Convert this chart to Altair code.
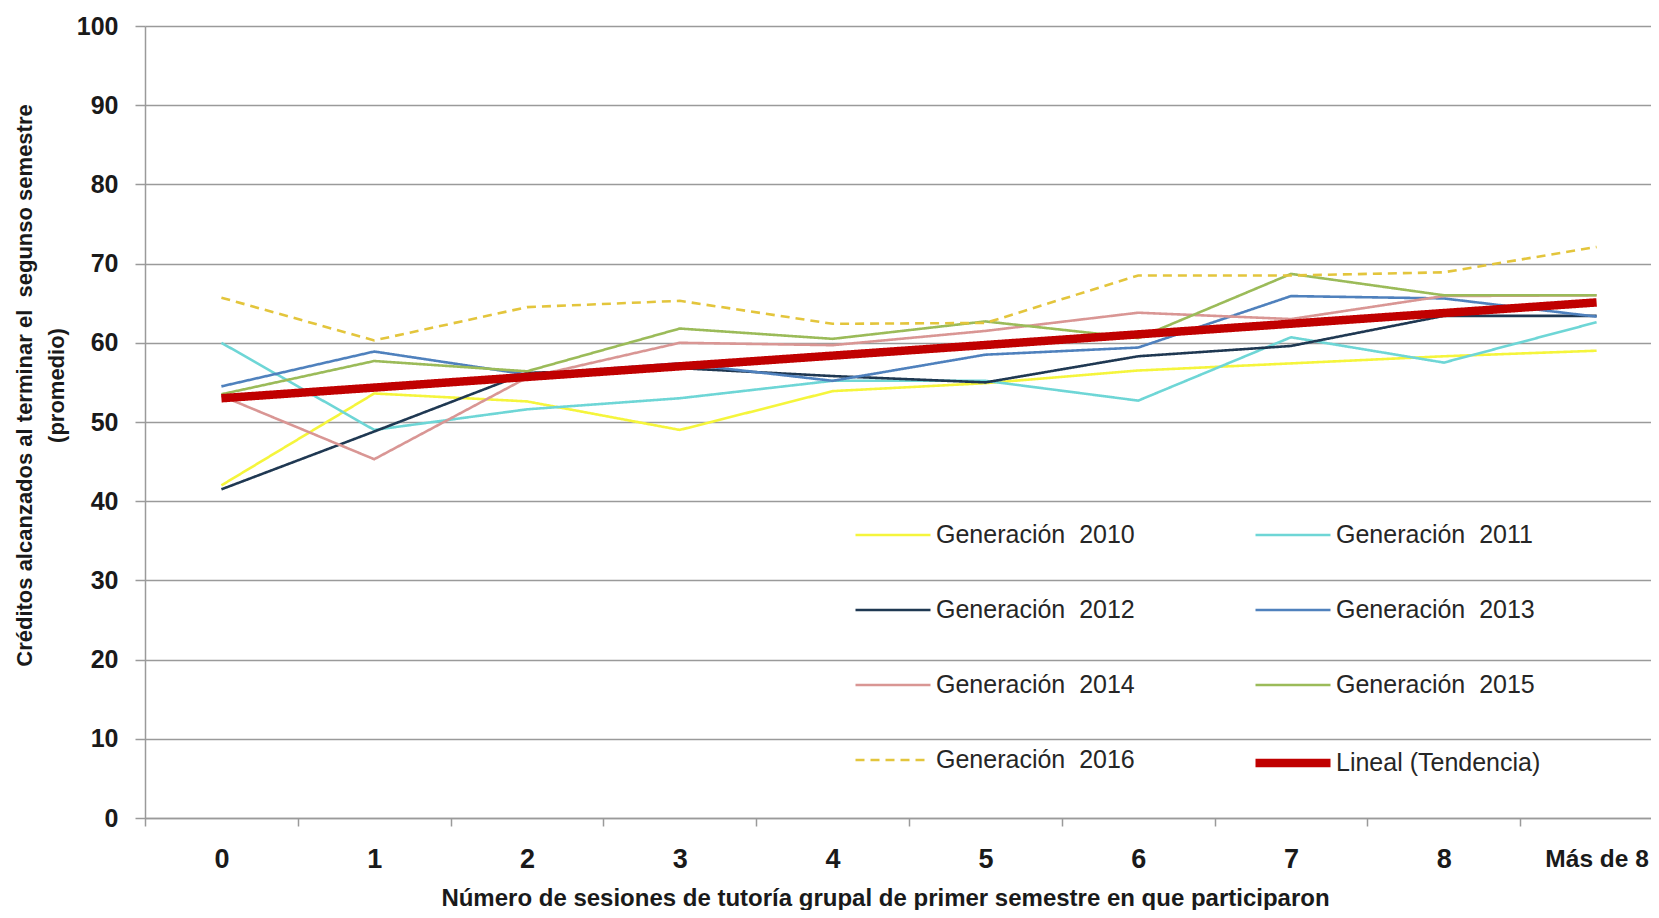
import json
import altair as alt
import pandas as pd

# ---------------- data ----------------
x_labels = ["0", "1", "2", "3", "4", "5", "6", "7", "8", "Más de 8"]
x_pos = list(range(10))

g2010 = [42.0, 53.6, 52.6, 49.0, 53.9, 54.9, 56.5, 57.4, 58.3, 59.0]
g2011 = [60.0, 49.0, 51.6, 53.0, 55.2, 55.2, 52.7, 60.7, 57.5, 62.6]
g2012 = [41.5, 48.8, 56.2, 56.8, 55.8, 55.0, 58.3, 59.6, 63.4, 63.4]
g2013 = [54.5, 58.9, 56.0, 57.4, 55.2, 58.5, 59.4, 65.9, 65.6, 63.3]
g2014 = [53.3, 45.3, 55.6, 60.0, 59.7, 61.5, 63.8, 63.0, 65.9, 66.0]
g2015 = [53.5, 57.7, 56.4, 61.8, 60.5, 62.7, 60.6, 68.7, 66.0, 66.0]
g2016 = [65.7, 60.3, 64.5, 65.3, 62.4, 62.5, 68.5, 68.5, 68.9, 72.1]
trend_x = [0, 9]
trend_y = [53.0, 65.1]

series_names = [
    "Generación\u00a0 2010", "Generación\u00a0 2011", "Generación\u00a0 2012",
    "Generación\u00a0 2013", "Generación\u00a0 2014", "Generación\u00a0 2015",
    "Generación\u00a0 2016", "Lineal (Tendencia)",
]
series_values = [g2010, g2011, g2012, g2013, g2014, g2015, g2016]
series_colors = ["#F5F53C", "#6ED6D6", "#1F3852", "#4F81BD", "#D99694",
                 "#9BBB59", "#E3C53C", "#C00000"]
series_dash = [[1, 0]] * 6 + [[9, 6]] + [[1, 0]]
series_width = [2.6] * 7 + [8.5]

rows = []
for name, vals in zip(series_names[:7], series_values):
    for xp, v in zip(x_pos, vals):
        rows.append({"serie": name, "x": xp, "valor": v})
for xp, v in zip(trend_x, trend_y):
    rows.append({"serie": series_names[7], "x": xp, "valor": v})
df = pd.DataFrame(rows)

FONT = "Liberation Sans"
GRID = "#9a9a9a"
TXT = "#1a1a1a"

label_expr = json.dumps(x_labels) + "[round(datum.value + 0.5)]"

legend_kw = dict(
    orient="none", legendX=706, legendY=470, columns=2, direction="horizontal",
    title=None, symbolType="stroke", symbolSize=5625, labelFont=FONT,
    labelFontSize=25, labelColor="#262626", labelLimit=400, rowPadding=23,
    columnPadding=103, labelOffset=1, padding=0, symbolOpacity=1,
)

chart = alt.Chart(df).mark_line().encode(
    x=alt.X(
        "x:Q",
        scale=alt.Scale(domain=[-0.5, 9.356], nice=False, zero=False),
        axis=alt.Axis(
            values=[i - 0.5 for i in range(10)],
            labelExpr=label_expr,
            labelOffset=76.4,
            labelFlush=False,
            labelOverlap=False,
            labelFont=FONT,
            labelFontSize=alt.condition("datum.value > 8", alt.value(24.5), alt.value(27)),
            labelFontWeight="bold",
            labelColor=TXT, labelBaseline="middle", labelPadding=33,
            tickSize=8, tickColor=GRID, tickWidth=1.5,
            domainColor=GRID, domainWidth=1.5, grid=False,
            title="Número de sesiones de tutoría grupal de primer semestre en que participaron",
            titleFont=FONT, titleFontSize=24, titleFontWeight="bold", titleColor=TXT,
            titleX=740, titleY=80, titleAlign="center", titleBaseline="middle",
        ),
    ),
    y=alt.Y(
        "valor:Q",
        scale=alt.Scale(domain=[0, 100], nice=False),
        axis=alt.Axis(
            values=list(range(0, 101, 10)),
            labelFont=FONT, labelFontSize=25, labelFontWeight="bold", labelColor=TXT,
            labelPadding=17, tickSize=10, tickColor=GRID, tickWidth=1.5,
            domainColor=GRID, domainWidth=1.5,
            grid=True, gridColor=GRID, gridWidth=1.5,
            title=["Créditos alcanzados al terminar el\u00a0 segunso semestre", "(promedio)"],
            titleFont=FONT, titleFontSize=22, titleFontWeight="bold", titleColor=TXT,
            titleAngle=270, titleX=-121, titleY=359, titleAlign="center",
            titleBaseline="middle", titleLineHeight=32,
        ),
    ),
    color=alt.Color("serie:N", scale=alt.Scale(domain=series_names, range=series_colors),
                    legend=alt.Legend(**legend_kw)),
    strokeDash=alt.StrokeDash("serie:N", scale=alt.Scale(domain=series_names, range=series_dash),
                              legend=alt.Legend(**legend_kw)),
    strokeWidth=alt.StrokeWidth("serie:N",
                                scale=alt.Scale(type="ordinal", domain=series_names, range=series_width),
                                legend=alt.Legend(**legend_kw)),
).properties(
    width=1506,
    height=792,
    autosize=alt.AutoSizeParams(type="none"),
    padding={"left": 137, "top": 18, "right": 0, "bottom": 92},
    background="white",
).configure_view(stroke=None)

chart.save("out.html", embed_options={"renderer": "svg", "actions": False})
